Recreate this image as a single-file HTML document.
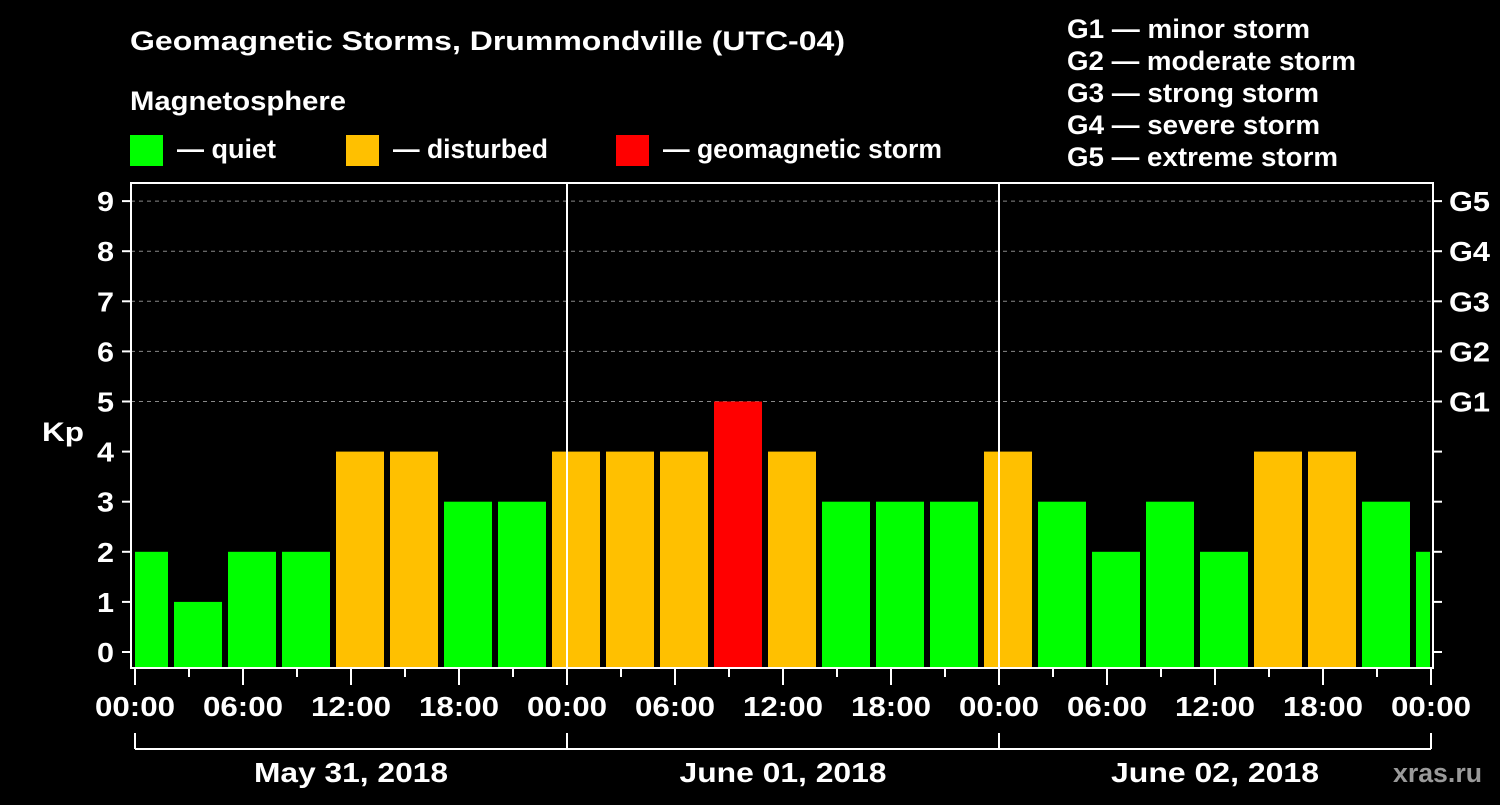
<!DOCTYPE html>
<html><head><meta charset="utf-8"><style>
body{margin:0;background:#000;}
svg text{font-family:"Liberation Sans",Arial,sans-serif;font-weight:bold;fill:#fff;}
</style></head><body>
<svg id="c" width="1500" height="800" xmlns="http://www.w3.org/2000/svg">
<rect width="1500" height="800" fill="#000"/>
<text x="130" y="50" font-size="27" textLength="715" lengthAdjust="spacingAndGlyphs">Geomagnetic Storms, Drummondville (UTC-04)</text>
<text x="130" y="110" font-size="27" textLength="216" lengthAdjust="spacingAndGlyphs">Magnetosphere</text>
<g><rect x="130" y="135" width="33" height="31" fill="#00ff00"/><text x="177" y="158" font-size="27" textLength="99" lengthAdjust="spacingAndGlyphs">— quiet</text></g>
<g><rect x="346" y="135" width="33" height="31" fill="#ffc000"/><text x="393" y="158" font-size="27" textLength="155" lengthAdjust="spacingAndGlyphs">— disturbed</text></g>
<g><rect x="616" y="135" width="33" height="31" fill="#ff0000"/><text x="663" y="158" font-size="27" textLength="279" lengthAdjust="spacingAndGlyphs">— geomagnetic storm</text></g>
<g font-size="27">
<text x="1067" y="38" textLength="243" lengthAdjust="spacingAndGlyphs">G1 — minor storm</text>
<text x="1067" y="70" textLength="289" lengthAdjust="spacingAndGlyphs">G2 — moderate storm</text>
<text x="1067" y="102" textLength="252" lengthAdjust="spacingAndGlyphs">G3 — strong storm</text>
<text x="1067" y="134" textLength="253" lengthAdjust="spacingAndGlyphs">G4 — severe storm</text>
<text x="1067" y="166" textLength="271" lengthAdjust="spacingAndGlyphs">G5 — extreme storm</text>
</g>
<g id="plot"></g>
<text x="42" y="441" font-size="27" textLength="42" lengthAdjust="spacingAndGlyphs">Kp</text>
<text x="1393" y="782" font-size="27" textLength="89" lengthAdjust="spacingAndGlyphs" style="fill:#9a9a9a">xras.ru</text>
</svg>
<script>
const kpValues=[2,1,2,2,4,4,3,3,4,4,4,5,4,3,3,3,4,3,2,3,2,4,4,3,2];
const startHour=-1;
const hourTicks=["00:00","06:00","12:00","18:00"];
const dayLabels=["May 31, 2018","June 01, 2018","June 02, 2018"];
const gLabels=["G1","G2","G3","G4","G5"];
const NS="http://www.w3.org/2000/svg";
const X0=135,PX_H=18,Y0=652,PX_K=50.1,TOP=183,BOT=668,L=131,R=1433;
const xs=h=>X0+h*PX_H, ys=k=>Y0-k*PX_K;
const g=document.getElementById('plot');
function mk(t,a,p){const e=document.createElementNS(NS,t);for(const k in a)e.setAttribute(k,a[k]);(p||g).appendChild(e);return e;}
for(let k=5;k<=9;k++){const e=mk('line',{x1:L,x2:R,y1:ys(k),y2:ys(k),stroke:'#888','stroke-dasharray':'4,4','stroke-width':1});

}
kpValues.forEach((v,i)=>{const h0=startHour+i*3;let x1=xs(h0)+3,x2=xs(h0+3)-3;x1=Math.max(x1,L+4);x2=Math.min(x2,R-3);
const c=v>=5?'#ff0000':v>=4?'#ffc000':'#00ff00';
const e=mk('rect',{x:x1,y:ys(v),width:x2-x1,height:BOT-ys(v),fill:c});

});
for(let d=1;d<3;d++){const e=mk('line',{x1:xs(d*24),x2:xs(d*24),y1:TOP,y2:BOT,stroke:'#fff','stroke-width':2});

}
const fr=mk('rect',{x:L,y:TOP,width:R-L,height:BOT-TOP,fill:'none',stroke:'#fff','stroke-width':2});


for(let k=0;k<=9;k++){mk('line',{x1:L-9,x2:L,y1:ys(k),y2:ys(k),stroke:'#fff','stroke-width':2});
mk('line',{x1:R,x2:R+9,y1:ys(k),y2:ys(k),stroke:'#fff','stroke-width':2});
const t=mk('text',{x:114,y:ys(k)+10,'font-size':28,'text-anchor':'end',textLength:17,lengthAdjust:'spacingAndGlyphs'});t.textContent=k;

}
gLabels.forEach((s,i)=>{const t=mk('text',{x:1449,y:ys(5+i)+10,'font-size':28,textLength:41,lengthAdjust:'spacingAndGlyphs'});t.textContent=s;

});
for(let h=0;h<=72;h+=3){const major=h%6===0;mk('line',{x1:xs(h),x2:xs(h),y1:BOT,y2:BOT+(major?17:9),stroke:'#fff','stroke-width':2});}
for(let h=0;h<=72;h+=6){const t=mk('text',{x:xs(h),y:716,'font-size':28,'text-anchor':'middle',textLength:80,lengthAdjust:'spacingAndGlyphs'});t.textContent=hourTicks[(h/6)%4];

}
mk('line',{x1:xs(0),x2:xs(72),y1:749,y2:749,stroke:'#fff','stroke-width':2});
for(let d=0;d<=3;d++)mk('line',{x1:xs(d*24),x2:xs(d*24),y1:733,y2:749,stroke:'#fff','stroke-width':2});
const dayW=[194,207,208];
dayLabels.forEach((s,d)=>{const t=mk('text',{x:xs(d*24+12)+(d===0?0:0),y:782,'font-size':28,'text-anchor':'middle',textLength:dayW[d],lengthAdjust:'spacingAndGlyphs'});t.textContent=s;

});
</script>
</body></html>
